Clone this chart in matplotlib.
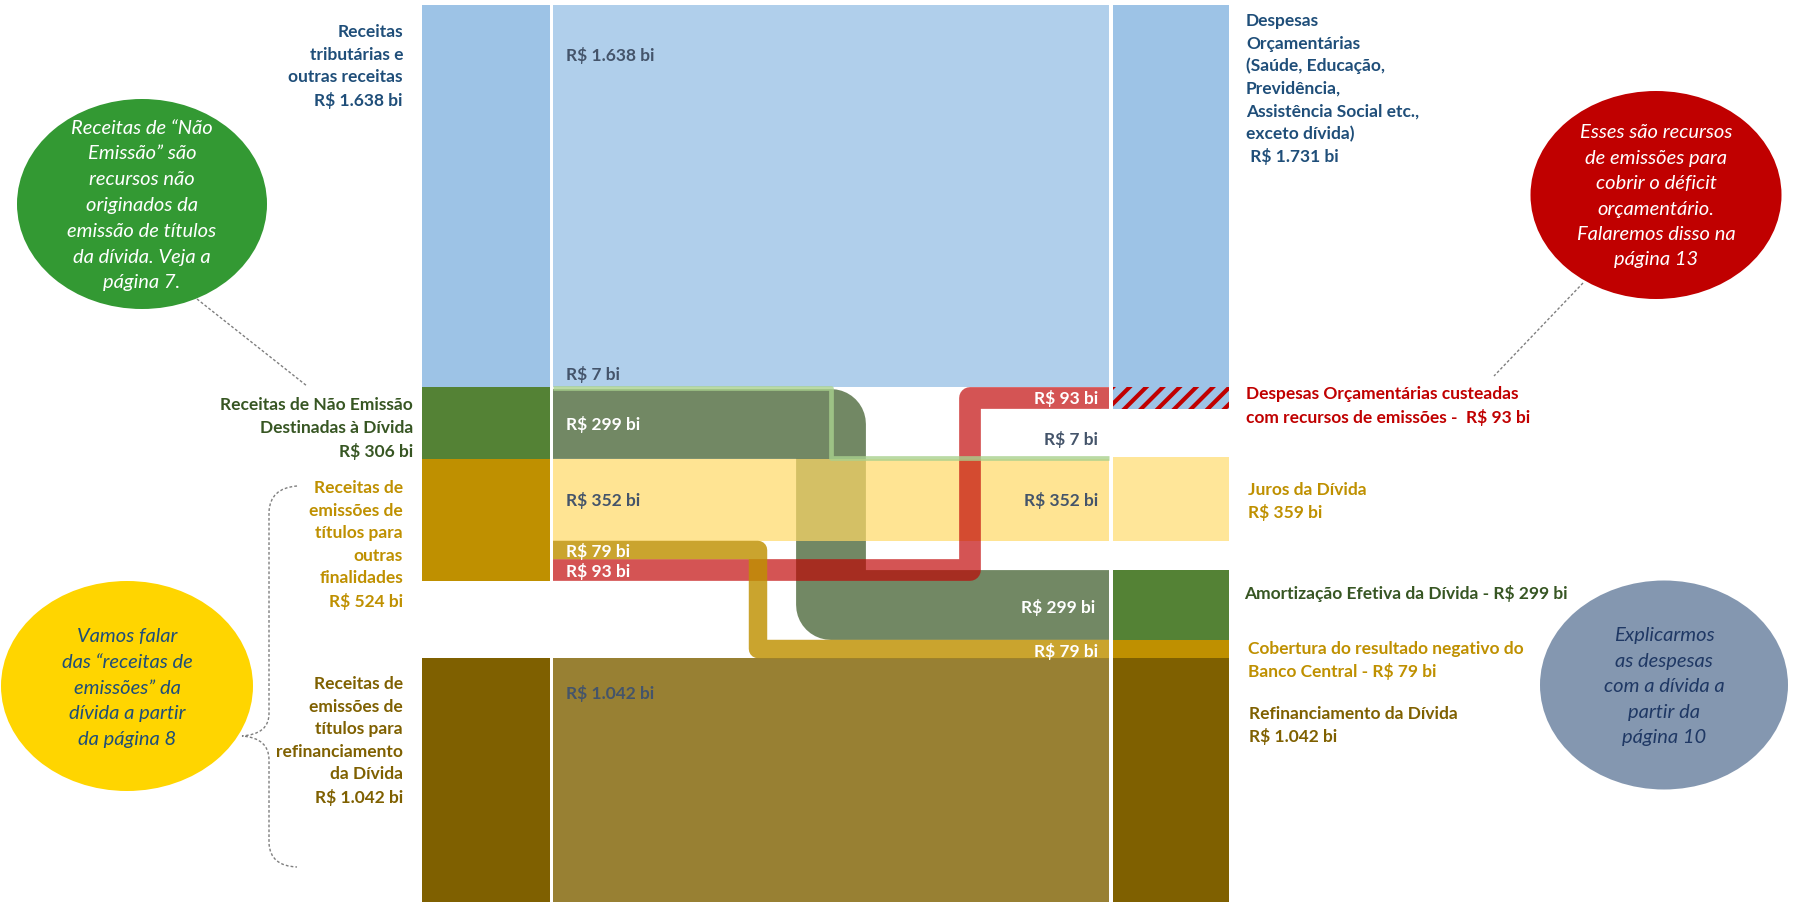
import matplotlib
matplotlib.use("Agg")
import matplotlib.pyplot as plt
from matplotlib.patches import Ellipse, PathPatch
from matplotlib.path import Path
from matplotlib.lines import Line2D

plt.rcParams['font.family'] = ['Lato', 'DejaVu Sans']
plt.rcParams['hatch.linewidth'] = 3.0

# ---------------- data (R$ bilhões) ----------------
left_labels = ["Receitas\ntributárias e\noutras receitas",
               "Receitas de Não Emissão\nDestinadas à Dívida",
               "Receitas de\nemissões de\ntítulos para\noutras\nfinalidades",
               "Receitas de\nemissões de\ntítulos para\nrefinanciamento\nda Dívida"]
left_values = [1638, 306, 524, 1042]

right_labels = ["Despesas\nOrçamentárias\n(Saúde, Educação,\nPrevidência,\nAssistência Social etc.,\nexceto dívida)",
                "Despesas Orçamentárias custeadas\ncom recursos de emissões -  ",
                "Juros da Dívida",
                "Amortização Efetiva da Dívida - ",
                "Cobertura do resultado negativo do\nBanco Central - ",
                "Refinanciamento da Dívida"]
right_values = [1731, 93, 359, 299, 79, 1042]

# flows: source node (left), target node (right), value
flow_src = [0, 1, 1, 2, 2, 2, 3]
flow_dst = [0, 2, 3, 2, 4, 1, 5]
flow_values = [1638, 7, 299, 352, 79, 93, 1042]

callouts = ["Receitas de “Não\nEmissão” são\nrecursos não\noriginados da\nemissão de títulos\nda dívida. Veja a\npágina 7.",
            "Esses são recursos\nde emissões para\ncobrir o déficit\norçamentário.\nFalaremos disso na\npágina 13",
            "Vamos falar\ndas “receitas de\nemissões” da\ndívida a partir\nda página 8",
            "Explicarmos\nas despesas\ncom a dívida a\npartir da\npágina 10"]

# ---------------- style / layout ----------------
W, H = 1797, 908
PX_PER_BI = 0.2335
TOP_PX = 5
left_colors = ["#9DC3E6", "#548235", "#BF9000", "#7F6000"]
right_colors = ["#9DC3E6", "#9DC3E6", "#FFE699", "#548235", "#BF9000", "#7F6000"]
flow_colors = ["#9DC3E6", "#A9D18E", "#375623", "#FFD966", "#BF9000", "#C00000", "#7F6000"]
flow_alpha = [0.8, 0.8, 0.7, 0.7, 0.82, 0.67, 0.8]
flow_z = [1, 6, 2, 3, 5, 4, 1]
flow_bend = [None, 831, 831, None, 758, 970, None]
left_gap_before = [0, 0, 0, 330]
right_top = [0, 1638, 1937, 2420, 2719, 2798]

LX0, LX1 = 422, 550
MX0, MX1 = 553, 1109
RX0, RX1 = 1113, 1229

fig = plt.figure(figsize=(W / 100, H / 100), dpi=100)
ax = fig.add_axes([0, 0, 1, 1])
ax.set_xlim(0, W)
ax.set_ylim((H - TOP_PX) / PX_PER_BI, -TOP_PX / PX_PER_BI)
ax.axis('off')
ov = fig.add_axes([0, 0, 1, 1], facecolor='none')
ov.set_xlim(0, W)
ov.set_ylim(H, 0)
ov.axis('off')


def brl(v):
    return f"R$ {v:,} bi".replace(",", ".")


# left nodes
left_top = []
y = 0
for v, g in zip(left_values, left_gap_before):
    y += g
    left_top.append(y)
    y += v
ax.bar((LX0 + LX1) / 2, left_values, bottom=left_top, width=LX1 - LX0,
       color=left_colors, linewidth=0, zorder=1)

# right nodes (node 0 contains node 1 as hatched part)
ax.bar((RX0 + RX1) / 2, right_values[0] - right_values[1], bottom=right_top[0],
       width=RX1 - RX0, color=right_colors[0], linewidth=0, zorder=1)
ax.bar((RX0 + RX1) / 2, right_values[1], bottom=right_top[1], width=RX1 - RX0,
       color=right_colors[1], edgecolor="#C00000", hatch='//', linewidth=0, zorder=1)
ax.bar((RX0 + RX1) / 2, right_values[2:], bottom=right_top[2:], width=RX1 - RX0,
       color=right_colors[2:], linewidth=0, zorder=1)

# flow positions
src_off = {i: t for i, t in enumerate(left_top)}
dst_pos = {i: t for i, t in enumerate(right_top)}
flow_l, flow_r = [], []
for s, d, v in zip(flow_src, flow_dst, flow_values):
    flow_l.append(src_off[s])
    src_off[s] += v
    flow_r.append(dst_pos[d])
    dst_pos[d] += v

fig.canvas.draw()
pt_per_bi = abs(ax.transData.transform((0, 1))[1] - ax.transData.transform((0, 0))[1]) * 72 / fig.dpi
for v, yl, yr, c, a, z, bx in zip(flow_values, flow_l, flow_r, flow_colors, flow_alpha, flow_z, flow_bend):
    if bx is None:
        ax.bar((MX0 + MX1) / 2, v, bottom=yl, width=MX1 - MX0, color=c, alpha=a,
               linewidth=0, zorder=z)
    else:
        cl, cr = yl + v / 2, yr + v / 2
        lw = max(v * pt_per_bi, 3.4)
        ax.add_line(Line2D([MX0, bx, bx, MX1], [cl, cl, cr, cr], color=c, alpha=a,
                           lw=lw, solid_joinstyle='round', solid_capstyle='butt', zorder=z))

# ---------------- middle value labels ----------------
DARK = "#44546A"
kw = dict(fontsize=12.5, fontweight='bold', va='center', zorder=10)
LXT, RXT = 566, 1098
off = dict(textcoords='offset pixels')
# left side
ax.annotate(brl(flow_values[0]), (LXT, flow_l[0]), xytext=(0, -50), color=DARK, **off, **kw)
ax.annotate(brl(flow_values[1]), (LXT, flow_l[1]), xytext=(0, 13), color=DARK, **off, **kw)
ax.annotate(brl(flow_values[2]), (LXT, flow_l[2] + flow_values[2] / 2), xytext=(0, 0), color='white', **off, **kw)
ax.annotate(brl(flow_values[3]), (LXT, flow_l[3] + flow_values[3] / 2), xytext=(0, 0), color=DARK, **off, **kw)
ax.annotate(brl(flow_values[4]), (LXT, flow_l[4] + flow_values[4] / 2), xytext=(0, -1), color='white', **off, **kw)
ax.annotate(brl(flow_values[5]), (LXT, flow_l[5] + flow_values[5] / 2), xytext=(0, -1), color='white', **off, **kw)
ax.annotate(brl(flow_values[6]), (LXT, flow_l[6]), xytext=(0, -35), color=DARK, **off, **kw)
# right side
kwr = dict(kw, ha='right')
ax.annotate(brl(flow_values[5]), (RXT, flow_r[5] + flow_values[5] / 2), xytext=(0, 0), color='white', **off, **kwr)
ax.annotate(brl(flow_values[1]), (RXT, flow_r[1]), xytext=(0, 18), color=DARK, **off, **kwr)
ax.annotate(brl(flow_values[3]), (RXT, flow_r[3] + flow_values[3] / 2), xytext=(0, 0), color=DARK, **off, **kwr)
ax.annotate(brl(flow_values[2]), (RXT - 3, flow_r[2] + flow_values[2] / 2), xytext=(0, -3), color='white', **off, **kwr)
ax.annotate(brl(flow_values[4]), (RXT, flow_r[4] + flow_values[4] / 2), xytext=(0, -2), color='white', **off, **kwr)


# ---------------- side labels ----------------
def block(x, y0, text, dy, color, ha='left', size=12.5, style='normal', weight='bold'):
    for i, line in enumerate(text.split("\n")):
        ov.text(x, y0 + i * dy, line, ha=ha, va='center', color=color, fontsize=size,
                fontweight=weight, fontstyle=style, zorder=10)


block(403, 32, left_labels[0] + "\n" + brl(left_values[0]), 22.7, "#1F4E79", ha='right')
block(413, 405, left_labels[1] + "\n" + brl(left_values[1]), 23.0, "#375623", ha='right')
block(403, 488, left_labels[2] + "\n" + brl(left_values[2]), 22.6, "#BF9000", ha='right')
block(403, 684, left_labels[3] + "\n" + brl(left_values[3]), 22.6, "#7F6000", ha='right')

block(1246, 21, right_labels[0] + "\n " + brl(right_values[0]), 22.6, "#1F4E79")
block(1246, 394, right_labels[1] + brl(right_values[1]), 23.0, "#C00000")
block(1248, 490, right_labels[2] + "\n" + brl(right_values[2]), 22.6, "#BF9000")
block(1244, 593, right_labels[3] + brl(right_values[3]), 22.6, "#375623")
block(1248, 649, right_labels[4] + brl(right_values[4]), 22.6, "#BF9000")
block(1249, 714, right_labels[5] + "\n" + brl(right_values[5]), 22.6, "#7F6000")

# ---------------- call-out ellipses ----------------
ell = [((142, 204), 250, 210, "#339933", "white", 128, 25.8),
       ((1656, 195), 251, 208, "#C00000", "white", 133, 25.4),
       ((127, 686), 252, 210, "#FFD500", "#1F4E79", 637, 25.5),
       ((1664, 685), 248, 209, "#8497B0", "#1F3864", 636, 25.5)]
for (c, w, h, fc, tc, y0, dy), txt in zip(ell, callouts):
    ov.add_patch(Ellipse(c, w, h, facecolor=fc, edgecolor='none', zorder=5))
    block(c[0], y0, txt, dy, tc, ha='center', size=14.5, style='italic', weight='normal')

# dashed leader lines
ov.plot([197, 307], [299, 386], color="#7F7F7F", lw=1, ls=(0, (2, 1.5)), zorder=4)
ov.plot([1583, 1494], [283, 376], color="#7F7F7F", lw=1, ls=(0, (2, 1.5)), zorder=4)

# curly brace
verts = [(297, 486), (270, 488), (269, 512), (269, 714), (269, 734), (242, 736),
         (269, 738), (269, 760), (269, 843), (270, 866), (297, 867)]
codes = [Path.MOVETO, Path.CURVE3, Path.CURVE3, Path.LINETO, Path.CURVE3, Path.CURVE3,
         Path.CURVE3, Path.CURVE3, Path.LINETO, Path.CURVE3, Path.CURVE3]
ov.add_patch(PathPatch(Path(verts, codes), facecolor='none', edgecolor="#7F7F7F",
                       lw=1, ls=(0, (2, 1.5)), zorder=4))

fig.savefig("out.png", dpi=100)
